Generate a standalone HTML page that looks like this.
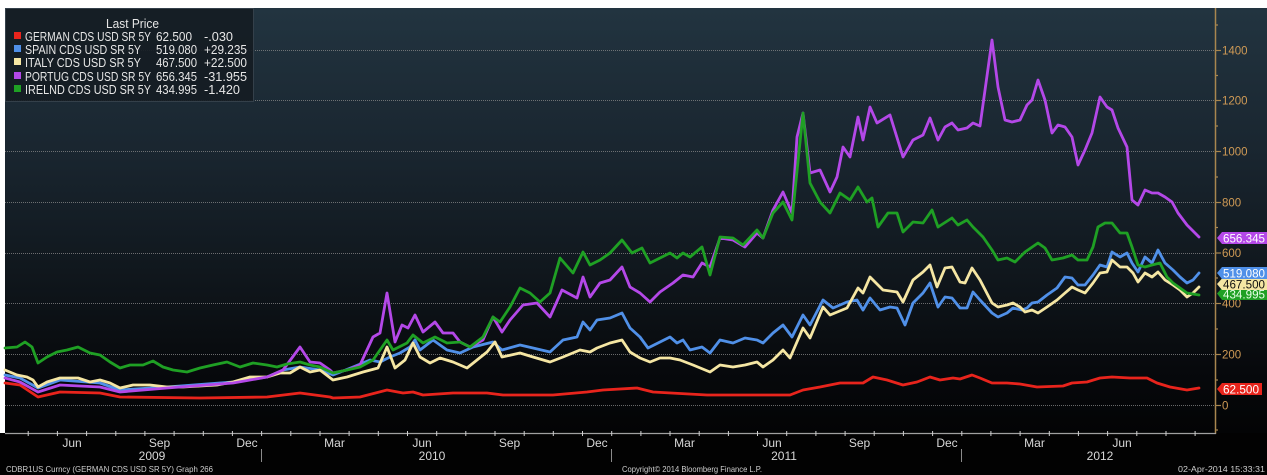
<!DOCTYPE html>
<html>
<head>
<meta charset="utf-8">
<style>
html,body{margin:0;padding:0;background:#000;}
svg{display:block;}
text{font-family:"Liberation Sans",sans-serif;}
</style>
</head>
<body>
<svg width="1267" height="475" viewBox="0 0 1267 475" xmlns="http://www.w3.org/2000/svg">
<defs>
<linearGradient id="bg" gradientUnits="userSpaceOnUse" x1="0" y1="8" x2="0" y2="433">
<stop offset="0" stop-color="#223440"/>
<stop offset="0.35" stop-color="#19252f"/>
<stop offset="0.62" stop-color="#10171d"/>
<stop offset="0.85" stop-color="#07090c"/>
<stop offset="1" stop-color="#030405"/>
</linearGradient>
</defs>
<rect x="0" y="0" width="1267" height="475" fill="#020202"/>
<rect x="5" y="8" width="1262" height="425" fill="url(#bg)"/>
<rect x="0" y="0" width="1267" height="8" fill="#ffffff"/>
<rect x="0" y="0" width="5" height="433" fill="#ffffff"/>

<!-- gridlines -->
<g stroke="#8a8a8a" stroke-width="1" stroke-dasharray="1 1" opacity="0.75">
<line x1="5" y1="405.5" x2="1215" y2="405.5"/>
<line x1="5" y1="354.5" x2="1215" y2="354.5"/>
<line x1="5" y1="303.5" x2="1215" y2="303.5"/>
<line x1="5" y1="253.5" x2="1215" y2="253.5"/>
<line x1="5" y1="202.5" x2="1215" y2="202.5"/>
<line x1="5" y1="151.5" x2="1215" y2="151.5"/>
<line x1="5" y1="100.5" x2="1215" y2="100.5"/>
<line x1="5" y1="50.5" x2="1215" y2="50.5"/>
</g>

<!-- series -->
<g fill="none" stroke-width="2.8" stroke-linejoin="round" stroke-linecap="round">
<polyline stroke="#e8241c" points="5,383 20,385 38,397 60,392 100,393 120,397 200,398 267,397 300,393 330,397 333,398 360,397 387,390 403,393 413,392 423,395 453,393 487,393 503,395 553,395 587,392 603,390 637,388 653,392 707,395 740,395 790,395 803,390 820,387 840,383 863,383 873,377 887,380 903,385 917,382 930,377 940,380 953,378 960,379 972,375 980,378 992,383 1007,383 1020,384 1037,387 1063,386 1072,383 1087,382 1100,378 1112,377 1130,378 1147,378 1157,383 1170,387 1187,390 1199,388"/>
<polyline stroke="#5090e8" points="5,375 20,378 38,388 60,380 100,383 120,390 167,387 233,382 267,377 283,370 300,367 320,370 333,375 353,367 370,360 380,362 390,357 400,353 410,347 415,340 420,350 433,340 447,350 460,353 473,347 493,342 502,350 520,345 533,348 550,352 563,340 577,337 583,322 590,330 597,320 610,318 622,313 630,328 640,337 648,348 660,342 670,337 677,343 683,340 690,350 702,347 710,353 720,340 733,343 745,338 757,340 763,343 773,333 783,325 792,337 803,315 810,325 823,300 833,308 847,302 857,300 863,310 870,298 880,310 890,307 897,308 905,325 913,303 923,293 930,283 938,307 945,297 952,298 960,308 967,308 973,292 980,300 992,313 998,317 1007,313 1013,308 1022,310 1027,308 1032,303 1038,302 1047,295 1057,288 1065,277 1072,278 1078,285 1085,285 1093,275 1100,265 1107,267 1112,252 1120,257 1127,253 1132,263 1138,272 1145,257 1152,263 1158,250 1165,263 1173,270 1180,277 1187,283 1193,280 1199,273"/>
<polyline stroke="#f5e6a3" points="5,370 17,375 27,377 33,380 38,387 47,382 60,378 78,378 90,382 100,380 110,383 120,388 133,385 150,385 167,387 183,387 200,386 217,385 233,382 250,377 267,377 280,373 290,373 300,367 310,372 320,370 333,380 347,377 363,372 378,368 387,347 395,368 405,360 413,343 420,357 430,363 440,358 453,362 467,368 477,360 487,352 495,342 502,357 520,353 533,357 550,362 563,357 580,350 590,352 597,348 610,343 622,340 630,352 640,358 650,362 660,358 670,358 680,360 693,365 710,372 720,365 733,367 745,365 757,362 763,367 773,360 783,350 790,358 803,328 810,338 823,307 830,315 847,308 858,288 863,293 870,277 883,290 897,292 903,302 913,280 923,272 930,265 937,287 945,268 952,267 960,282 965,283 972,268 980,280 992,303 998,307 1007,305 1013,303 1020,307 1025,312 1032,310 1038,313 1047,307 1057,300 1065,293 1072,287 1078,290 1085,293 1093,283 1100,273 1107,272 1112,260 1120,267 1127,267 1133,273 1138,282 1145,273 1152,277 1158,272 1165,280 1173,285 1180,290 1187,297 1193,293 1199,287"/>
<polyline stroke="#b448e8" points="5,378 20,382 38,392 60,385 100,387 120,392 167,388 233,383 267,377 283,370 300,347 310,362 320,363 330,370 333,373 347,370 360,365 373,337 380,333 387,293 395,342 402,325 408,328 415,315 423,332 435,322 443,333 453,333 460,342 470,347 483,340 493,317 502,332 510,320 523,305 537,303 550,317 562,290 577,298 583,277 590,297 600,283 610,280 622,267 630,287 640,293 650,302 660,292 673,283 683,275 693,277 702,263 710,267 720,238 733,240 745,247 757,233 763,238 773,210 783,192 792,213 797,137 803,113 810,173 820,170 830,192 837,177 843,147 850,157 858,117 863,140 870,107 877,123 890,115 903,157 913,140 923,135 930,118 938,140 945,127 952,123 958,130 967,128 973,123 980,126 992,40 998,87 1005,120 1012,122 1020,120 1027,105 1032,100 1038,80 1045,100 1052,133 1058,125 1065,127 1072,137 1078,165 1085,150 1092,133 1100,97 1107,107 1112,110 1118,128 1127,147 1132,200 1138,205 1145,190 1152,193 1158,193 1165,197 1172,202 1178,213 1187,225 1199,237"/>
<polyline stroke="#1fa024" points="5,348 17,347 25,342 32,347 38,363 47,357 57,352 67,350 78,347 90,353 100,355 110,362 120,368 130,365 143,365 153,361 163,367 173,370 187,372 200,368 213,365 227,362 240,367 253,363 267,365 277,367 287,364 300,362 310,365 320,367 333,373 347,370 360,367 373,360 387,340 393,350 407,343 413,335 423,343 435,337 447,343 460,342 470,347 483,337 493,317 500,322 510,307 520,288 530,293 540,302 550,293 560,258 573,273 583,252 590,265 600,260 610,253 622,240 632,253 642,248 650,263 660,258 670,253 677,258 683,253 690,257 702,247 710,275 720,237 733,238 743,245 757,230 763,238 773,213 783,202 792,220 803,113 810,183 820,202 830,213 840,193 850,200 858,187 867,202 872,198 878,227 888,213 897,213 903,232 913,222 923,223 932,210 938,227 952,218 958,225 967,220 973,227 983,237 992,250 998,260 1007,258 1015,262 1025,252 1038,243 1045,248 1052,260 1063,258 1072,255 1078,260 1087,260 1093,247 1098,227 1105,223 1112,223 1120,233 1127,233 1132,247 1138,265 1145,267 1152,265 1160,263 1167,277 1173,283 1180,288 1187,293 1199,295"/>
</g>

<!-- legend -->
<rect x="5.5" y="8.5" width="248" height="93" fill="#151c23" fill-opacity="0.92" stroke="#34404a" stroke-width="1"/>
<g fill="#e6e6e6" font-size="12.5">
<text x="106" y="28" textLength="53" lengthAdjust="spacingAndGlyphs">Last Price</text>
<text x="25" y="41" textLength="126" lengthAdjust="spacingAndGlyphs">GERMAN CDS USD SR 5Y</text>
<text x="156" y="41" textLength="36" lengthAdjust="spacingAndGlyphs">62.500</text>
<text x="204" y="41" textLength="29" lengthAdjust="spacingAndGlyphs">-.030</text>
<text x="25" y="54" textLength="116" lengthAdjust="spacingAndGlyphs">SPAIN CDS USD SR 5Y</text>
<text x="156" y="54" textLength="41" lengthAdjust="spacingAndGlyphs">519.080</text>
<text x="204" y="54" textLength="43" lengthAdjust="spacingAndGlyphs">+29.235</text>
<text x="25" y="67" textLength="116" lengthAdjust="spacingAndGlyphs">ITALY CDS USD SR 5Y</text>
<text x="156" y="67" textLength="41" lengthAdjust="spacingAndGlyphs">467.500</text>
<text x="204" y="67" textLength="43" lengthAdjust="spacingAndGlyphs">+22.500</text>
<text x="25" y="81" textLength="126" lengthAdjust="spacingAndGlyphs">PORTUG CDS USD SR 5Y</text>
<text x="156" y="81" textLength="41" lengthAdjust="spacingAndGlyphs">656.345</text>
<text x="204" y="81" textLength="43" lengthAdjust="spacingAndGlyphs">-31.955</text>
<text x="25" y="94" textLength="126" lengthAdjust="spacingAndGlyphs">IRELND CDS USD SR 5Y</text>
<text x="156" y="94" textLength="41" lengthAdjust="spacingAndGlyphs">434.995</text>
<text x="204" y="94" textLength="36" lengthAdjust="spacingAndGlyphs">-1.420</text>
</g>
<rect x="14" y="32" width="7" height="7" fill="#e8241c"/>
<rect x="14" y="45" width="7" height="7" fill="#5090e8"/>
<rect x="14" y="58" width="7" height="7" fill="#f5e6a3"/>
<rect x="14" y="72" width="7" height="7" fill="#b448e8"/>
<rect x="14" y="85" width="7" height="7" fill="#1fa024"/>

<!-- right axis -->
<line x1="1215.5" y1="8" x2="1215.5" y2="434" stroke="#a8864f" stroke-width="1.5"/>
<g stroke="#a8864f" stroke-width="1.2">
<line x1="1215" y1="405.5" x2="1221" y2="405.5"/>
<line x1="1215" y1="354.5" x2="1221" y2="354.5"/>
<line x1="1215" y1="303.5" x2="1221" y2="303.5"/>
<line x1="1215" y1="253" x2="1221" y2="253"/>
<line x1="1215" y1="202.5" x2="1221" y2="202.5"/>
<line x1="1215" y1="151.5" x2="1221" y2="151.5"/>
<line x1="1215" y1="100.5" x2="1221" y2="100.5"/>
<line x1="1215" y1="50.5" x2="1221" y2="50.5"/>
<line x1="1215" y1="430" x2="1218" y2="430"/>
<line x1="1215" y1="380" x2="1218" y2="380"/>
<line x1="1215" y1="329" x2="1218" y2="329"/>
<line x1="1215" y1="278" x2="1218" y2="278"/>
<line x1="1215" y1="227.5" x2="1218" y2="227.5"/>
<line x1="1215" y1="177" x2="1218" y2="177"/>
<line x1="1215" y1="126" x2="1218" y2="126"/>
<line x1="1215" y1="75.5" x2="1218" y2="75.5"/>
<line x1="1215" y1="25" x2="1218" y2="25"/>
</g>
<g fill="#cf9a55" font-size="11.5">
<text x="1222" y="409.5">0</text>
<text x="1222" y="358.5">200</text>
<text x="1222" y="307.5">400</text>
<text x="1222" y="257">600</text>
<text x="1222" y="206.5">800</text>
<text x="1222" y="155.5">1000</text>
<text x="1222" y="104.5">1200</text>
<text x="1222" y="54.5">1400</text>
</g>

<!-- value tags -->
<g font-size="12">
<path d="M1217,238 L1222,232 L1267,232 L1267,244 L1222,244 Z" fill="#b448e8"/>
<text x="1223" y="242.5" fill="#ffffff" textLength="42" lengthAdjust="spacingAndGlyphs">656.345</text>
<path d="M1217,293.5 L1222,288 L1267,288 L1267,300 L1222,300 Z" fill="#1fa024"/>
<text x="1223" y="298.5" fill="#e8ffe8" textLength="42" lengthAdjust="spacingAndGlyphs">434.995</text>
<path d="M1217,284 L1222,278.5 L1267,278.5 L1267,290 L1222,290 Z" fill="#f5e6a3"/>
<text x="1223" y="288.5" fill="#111111" textLength="42" lengthAdjust="spacingAndGlyphs">467.500</text>
<path d="M1217,273 L1222,267 L1267,267 L1267,279 L1222,279 Z" fill="#5090e8"/>
<text x="1223" y="277.5" fill="#ffffff" textLength="42" lengthAdjust="spacingAndGlyphs">519.080</text>
<path d="M1217,389 L1222,383 L1262,383 L1262,395 L1222,395 Z" fill="#e8241c"/>
<text x="1223" y="393.5" fill="#ffffff" textLength="36" lengthAdjust="spacingAndGlyphs">62.500</text>
</g>

<!-- x axis -->
<line x1="5" y1="433.5" x2="1216" y2="433.5" stroke="#a0a0a0" stroke-width="1.2"/>
<g stroke="#d0d0d0" stroke-width="1">
<line x1="28.2" y1="431" x2="28.2" y2="436"/>
<line x1="57.4" y1="431" x2="57.4" y2="436"/>
<line x1="86.6" y1="431" x2="86.6" y2="436"/>
<line x1="115.8" y1="431" x2="115.8" y2="436"/>
<line x1="144.9" y1="431" x2="144.9" y2="436"/>
<line x1="174.1" y1="431" x2="174.1" y2="436"/>
<line x1="203.3" y1="431" x2="203.3" y2="436"/>
<line x1="232.4" y1="431" x2="232.4" y2="436"/>
<line x1="261.6" y1="431" x2="261.6" y2="436"/>
<line x1="290.8" y1="431" x2="290.8" y2="436"/>
<line x1="320" y1="431" x2="320" y2="436"/>
<line x1="349.1" y1="431" x2="349.1" y2="436"/>
<line x1="378.3" y1="431" x2="378.3" y2="436"/>
<line x1="407.5" y1="431" x2="407.5" y2="436"/>
<line x1="436.7" y1="431" x2="436.7" y2="436"/>
<line x1="465.8" y1="431" x2="465.8" y2="436"/>
<line x1="495" y1="431" x2="495" y2="436"/>
<line x1="524.2" y1="431" x2="524.2" y2="436"/>
<line x1="553.3" y1="431" x2="553.3" y2="436"/>
<line x1="582.5" y1="431" x2="582.5" y2="436"/>
<line x1="611.7" y1="431" x2="611.7" y2="436"/>
<line x1="640.9" y1="431" x2="640.9" y2="436"/>
<line x1="670" y1="431" x2="670" y2="436"/>
<line x1="699.2" y1="431" x2="699.2" y2="436"/>
<line x1="728.4" y1="431" x2="728.4" y2="436"/>
<line x1="757.5" y1="431" x2="757.5" y2="436"/>
<line x1="786.7" y1="431" x2="786.7" y2="436"/>
<line x1="815.9" y1="431" x2="815.9" y2="436"/>
<line x1="845.1" y1="431" x2="845.1" y2="436"/>
<line x1="874.2" y1="431" x2="874.2" y2="436"/>
<line x1="903.4" y1="431" x2="903.4" y2="436"/>
<line x1="932.6" y1="431" x2="932.6" y2="436"/>
<line x1="961.8" y1="431" x2="961.8" y2="436"/>
<line x1="990.9" y1="431" x2="990.9" y2="436"/>
<line x1="1020.1" y1="431" x2="1020.1" y2="436"/>
<line x1="1049.3" y1="431" x2="1049.3" y2="436"/>
<line x1="1078.4" y1="431" x2="1078.4" y2="436"/>
<line x1="1107.6" y1="431" x2="1107.6" y2="436"/>
<line x1="1136.8" y1="431" x2="1136.8" y2="436"/>
<line x1="1166" y1="431" x2="1166" y2="436"/>
<line x1="1195.1" y1="431" x2="1195.1" y2="436"/>
</g>
<g fill="#d8d8d8" font-size="12" text-anchor="middle">
<text x="72" y="447">Jun</text>
<text x="159.5" y="447">Sep</text>
<text x="247" y="447">Dec</text>
<text x="334.5" y="447">Mar</text>
<text x="422" y="447">Jun</text>
<text x="509.5" y="447">Sep</text>
<text x="597" y="447">Dec</text>
<text x="684.5" y="447">Mar</text>
<text x="772" y="447">Jun</text>
<text x="859.5" y="447">Sep</text>
<text x="947" y="447">Dec</text>
<text x="1034.5" y="447">Mar</text>
<text x="1122" y="447">Jun</text>
<text x="152" y="460">2009</text>
<text x="432" y="460">2010</text>
<text x="784" y="460">2011</text>
<text x="1100" y="460">2012</text>
</g>
<g stroke="#8a8a8a" stroke-width="1">
<line x1="261.5" y1="449" x2="261.5" y2="462"/>
<line x1="611.5" y1="449" x2="611.5" y2="462"/>
<line x1="961.5" y1="449" x2="961.5" y2="462"/>
</g>

<!-- footer -->
<g fill="#cfcfcf" font-size="8.5">
<text x="6" y="472" textLength="207" lengthAdjust="spacingAndGlyphs">CDBR1US Curncy (GERMAN CDS USD SR 5Y) Graph 266</text>
<text x="622" y="472" textLength="140" lengthAdjust="spacingAndGlyphs">Copyright© 2014 Bloomberg Finance L.P.</text>
<text x="1178" y="472" textLength="87" lengthAdjust="spacingAndGlyphs">02-Apr-2014 15:33:31</text>
</g>
</svg>
</body>
</html>
